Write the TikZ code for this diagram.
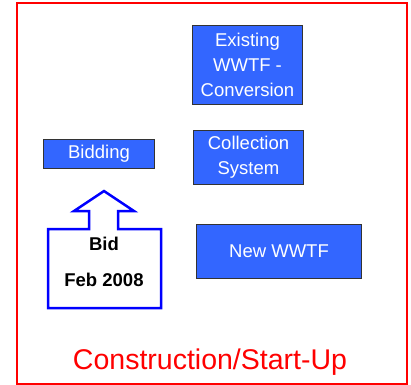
\documentclass[tikz,border=0pt]{standalone}
\usepackage{fontspec}
\setmainfont{Liberation Sans}
\usepackage{tikz}
\usetikzlibrary{calc}
\definecolor{boxblue}{RGB}{51,102,255}
\tikzset{
  phase/.style={draw=black!80, line width=1bp, fill=boxblue, text=white, align=center, inner sep=0pt,
    font=\fontsize{18.5bp}{25bp}\selectfont},
  callout/.style={draw=blue, line width=2.5bp, fill=white, line join=miter},
  bidtext/.style={font=\bfseries\fontsize{18.5bp}{22bp}\selectfont, inner sep=0pt}
}

\begin{document}
\begin{tikzpicture}[x=1bp, y=-1bp]
		\useasboundingbox (0,0) rectangle (411,385);
		
		% Rahmen
		\draw[red, line width=2bp] (17,3) rectangle (407,384);
		
		% Phasen
		\node[phase, minimum width=109bp, minimum height=79bp] (exist) at (247.5,64.5) {Existing\\WWTF -\\Conversion};
		\node[phase, minimum width=110bp, minimum height=29bp] (bidding) at (99,153.5) {Bidding};
		\node[phase, minimum width=109bp, minimum height=54bp] (collect) at (248.5,157) {Collection\\System};
		\node[phase, minimum width=164bp, minimum height=54bp] (newwwtf) at (279,251) {New WWTF};
		
		% Pfeil
		\draw[callout] (48,229) -- (89,229) -- (89,211) -- (74,211) -- (104,191) -- (134,211) -- (118,211) -- (118,229) -- (161,229) -- (161,308) -- (48,308) -- cycle;
		\node[bidtext] (bid) at (104,244) {Bid};
		\node[bidtext] (date) at (104,280) {Feb 2008};
		
		% Beschriftung
		\node[red, inner sep=0pt, font=\fontsize{28.5bp}{30bp}\selectfont] (title) at (210,362) {Construction/Start-Up};
	\end{tikzpicture}
\end{document}
